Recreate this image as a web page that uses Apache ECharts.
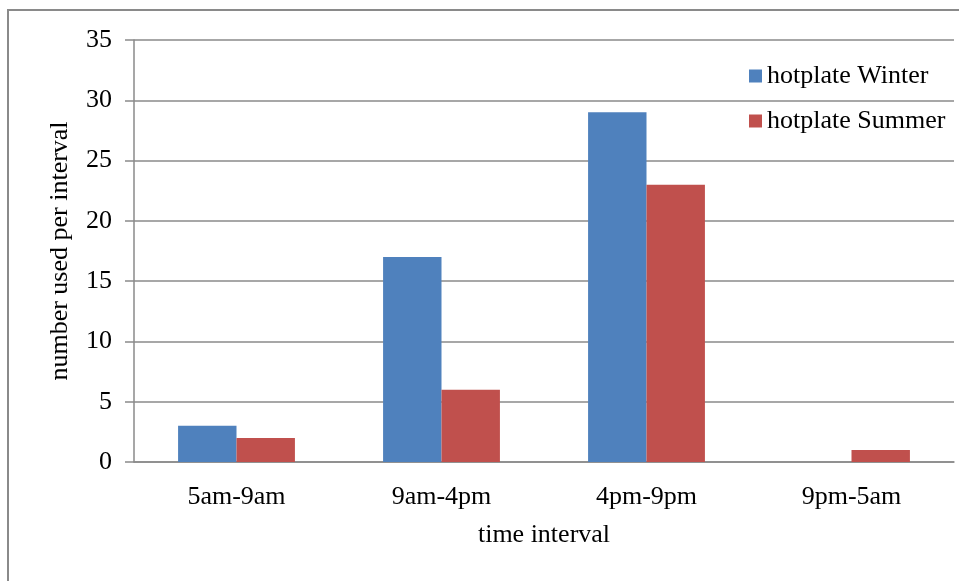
<!DOCTYPE html>
<html>
<head>
<meta charset="utf-8">
<script src="https://cdn.jsdelivr.net/npm/echarts@6/dist/echarts.min.js"></script>
<style>
html,body{margin:0;padding:0;background:#fff;}
#chart{width:959px;height:581px;}
</style>
</head>
<body>
<div id="chart"></div>
<script>
const categories = ['5am-9am', '9am-4pm', '4pm-9pm', '9pm-5am'];
const winterValues = [3, 17, 29, 0];
const summerValues = [2, 6, 23, 1];
const yTicks = { min: 0, max: 35, interval: 5 };
const seriesNames = ['hotplate Winter', 'hotplate Summer'];

const FONT = '"Liberation Serif", "Times New Roman", serif';
const chart = echarts.init(document.getElementById('chart'), null, { renderer: 'canvas' });
chart.setOption({
  animation: false,
  backgroundColor: '#fff',
  textStyle: { fontFamily: FONT },
  graphic: [{
    type: 'rect',
    shape: { x: 8, y: 10, width: 1000, height: 1000 },
    style: { fill: 'none', stroke: '#8a8a8a', lineWidth: 2 },
    silent: true
  }],
  grid: { left: 134, right: 5, top: 40, bottom: 119, containLabel: false },
  legend: {
    orient: 'vertical',
    left: 749,
    top: 63,
    padding: 0,
    itemWidth: 13,
    itemHeight: 13,
    itemGap: 19,
    icon: 'rect',
    textStyle: { fontFamily: FONT, fontSize: 26, color: '#000', lineHeight: 26 },
    data: seriesNames
  },
  xAxis: {
    type: 'category',
    data: categories,
    name: 'time interval',
    nameLocation: 'middle',
    nameGap: 60,
    nameTextStyle: { fontFamily: FONT, fontSize: 26, color: '#000' },
    axisLine: { lineStyle: { color: '#8a8a8a', width: 1.5 } },
    axisTick: { show: false },
    axisLabel: { fontFamily: FONT, fontSize: 26, color: '#000', margin: 22 }
  },
  yAxis: {
    type: 'value',
    min: yTicks.min,
    max: yTicks.max,
    interval: yTicks.interval,
    name: 'number used per interval',
    nameLocation: 'middle',
    nameGap: 61,
    nameTextStyle: { fontFamily: FONT, fontSize: 26, color: '#000' },
    axisLine: { show: true, lineStyle: { color: '#8a8a8a', width: 1.5 } },
    axisTick: { show: true, length: 9, lineStyle: { color: '#8a8a8a', width: 1.5 } },
    splitLine: { lineStyle: { color: '#8a8a8a', width: 1.5 } },
    axisLabel: { fontFamily: FONT, fontSize: 26, color: '#000', margin: 22 }
  },
  series: [
    {
      name: seriesNames[0],
      type: 'bar',
      data: winterValues,
      barWidth: '28.5%',
      barGap: '0%',
      itemStyle: { color: '#4F81BD' }
    },
    {
      name: seriesNames[1],
      type: 'bar',
      data: summerValues,
      barWidth: '28.5%',
      barGap: '0%',
      itemStyle: { color: '#C0504D' }
    }
  ]
});
</script>
</body>
</html>
